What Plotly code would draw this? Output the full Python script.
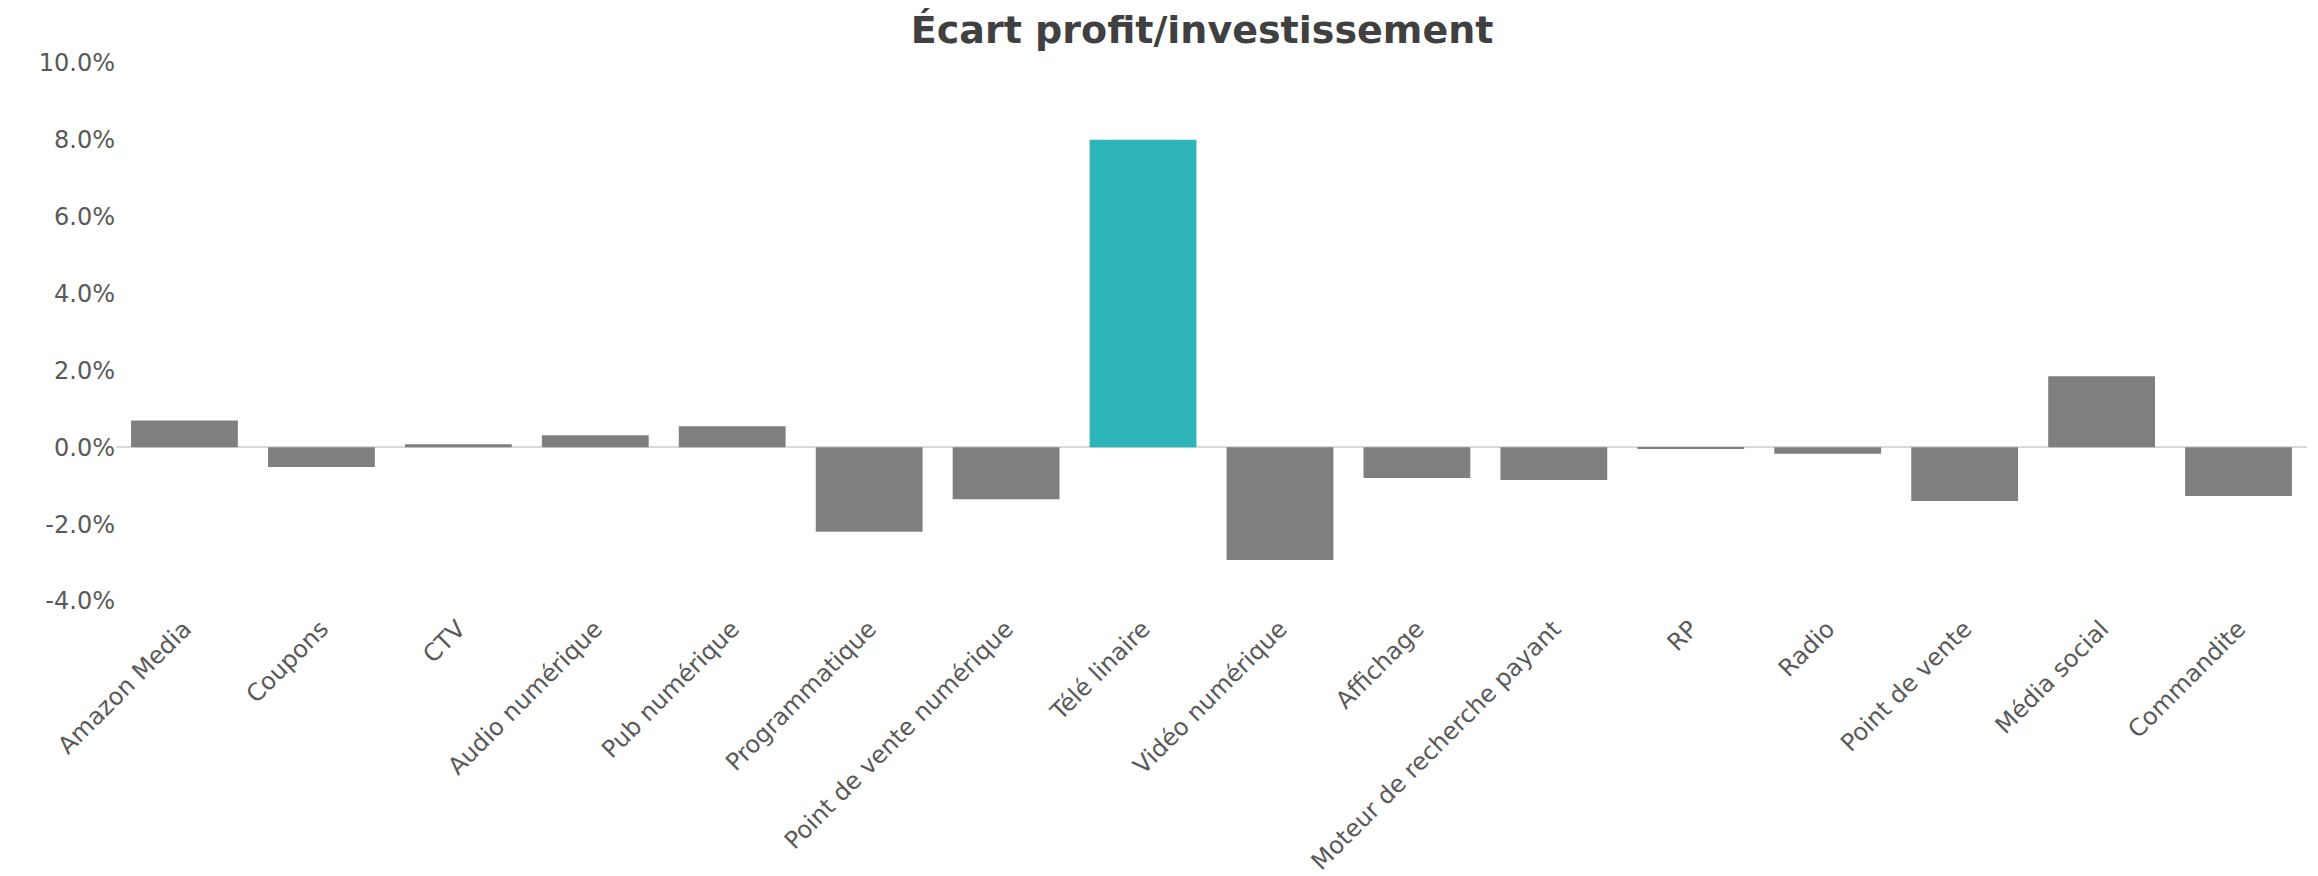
import plotly.graph_objects as go

categories = ["Amazon Media", "Coupons", "CTV", "Audio numérique", "Pub numérique",
              "Programmatique", "Point de vente numérique", "Télé linaire", "Vidéo numérique",
              "Affichage", "Moteur de recherche payant", "RP", "Radio", "Point de vente",
              "Média social", "Commandite"]
values = [0.70, -0.51, 0.08, 0.31, 0.55, -2.20, -1.35, 8.00, -2.93,
          -0.80, -0.85, -0.03, -0.17, -1.40, 1.85, -1.27]
highlight = "Télé linaire"
y_ticks = [-4, -2, 0, 2, 4, 6, 8, 10]
y_tick_labels = [f"{v:.1f}%" for v in y_ticks]

GRAY = "#7f7f7f"
TEAL = "#2DB5B9"
colors = [TEAL if c == highlight else GRAY for c in categories]

fig = go.Figure(go.Bar(x=categories, y=values, marker=dict(color=colors, line=dict(width=0)),
                       width=0.78, hoverinfo="x+y"))

fig.update_layout(
    width=2318, height=876,
    margin=dict(l=116, r=11, t=63, b=275, autoexpand=False),
    paper_bgcolor="white", plot_bgcolor="white",
    font=dict(family="DejaVu Sans, Verdana, sans-serif", size=24, color="#595959"),
    title=dict(text="<b>Écart profit/investissement</b>", x=0.5186, xanchor="center",
               y=0.966, yanchor="middle",
               font=dict(family="DejaVu Sans, Verdana, sans-serif", size=38, color="#404040")),
    showlegend=False,
)
fig.update_yaxes(range=[-4, 10], tickmode="array", tickvals=y_ticks, ticktext=y_tick_labels,
                 showgrid=False, zeroline=True, zerolinecolor="#d9d9d9", zerolinewidth=2,
                 showline=False, ticks="", automargin=False,
                 tickfont=dict(size=24, color="#595959"))
fig.update_xaxes(tickangle=-45, showgrid=False, showline=False, ticks="", automargin=False,
                 ticklabelstandoff=8, tickfont=dict(size=24, color="#595959"))

fig.write_html("out.html", config={"displayModeBar": False},
               post_script="document.body.style.margin='0px';")
